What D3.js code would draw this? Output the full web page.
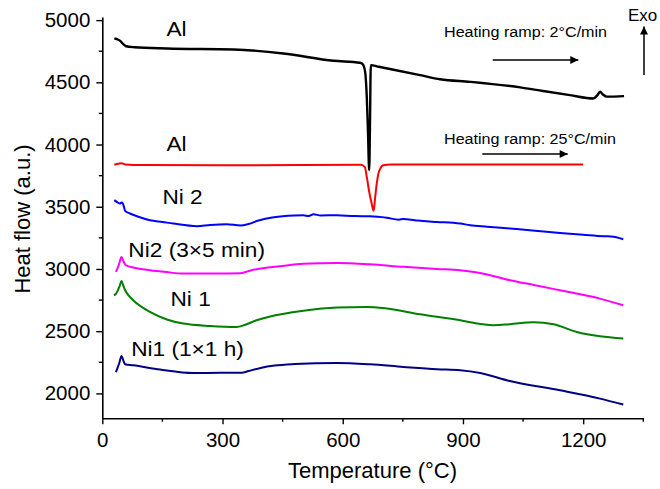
<!DOCTYPE html>
<html><head><meta charset="utf-8">
<script src="https://cdn.jsdelivr.net/npm/d3@7"></script>
<style>body{margin:0;background:#fff}svg{display:block}text{font-family:"Liberation Sans",Arial,sans-serif;fill:#000}</style>
</head><body>
<script>
const xTicks = [0, 300, 600, 900, 1200];
const yTicks = [2000, 2500, 3000, 3500, 4000, 4500, 5000];
const seriesNames = ["Al", "Al", "Ni 2", "Ni2 (3×5 min)", "Ni 1", "Ni1 (1×1 h)"];
const alSlow = [[30,4853],[38,4845],[44,4835],[53,4805],[59,4790],[80,4782],[161,4772],[327,4764],[452,4732],[577,4673],[643,4657],[650,4645],[656,4580],[660,4380],[663,4100],[666,3794],[668,4172],[670,4638],[690,4625],[793,4558],[843,4525],[918,4504],[1043,4459],[1100,4430],[1167,4397],[1225,4370],[1235,4395],[1242,4424],[1250,4400],[1259,4385],[1302,4389]];
const alFast = [[30,3838],[40,3845],[48,3850],[58,3840],[100,3835],[300,3833],[500,3835],[645,3838],[655,3820],[660,3740],[666,3620],[672,3529],[677,3467],[681,3579],[685,3690],[689,3767],[695,3815],[701,3834],[720,3840],[900,3840],[1200,3840]];
const ni2 = [[30,3553],[38,3535],[44,3526],[48,3535],[51,3528],[54,3500],[57,3467],[69,3446],[90,3420],[119,3392],[150,3378],[177,3365],[236,3344],[269,3354],[310,3360],[345,3350],[365,3362],[390,3390],[420,3412],[450,3424],[480,3430],[502,3432],[515,3425],[527,3440],[545,3430],[585,3432],[630,3425],[668,3424],[710,3412],[740,3396],[751,3402],[780,3392],[800,3385],[835,3378],[893,3365],[918,3352],[960,3340],[1017,3325],[1080,3308],[1142,3290],[1200,3275],[1251,3263],[1270,3262],[1300,3239]];
const ni2b = [[34,2977],[41,3030],[48,3097],[53,3060],[59,3030],[80,3010],[119,2990],[160,2975],[202,2963],[285,2963],[345,2966],[370,2988],[400,3006],[443,3022],[502,3042],[585,3049],[668,3038],[751,3017],[835,3000],[893,2990],[943,2968],[1017,2910],[1080,2870],[1142,2829],[1242,2762],[1300,2709]];
const ni1 = [[29,2789],[34,2800],[37,2816],[43,2860],[48,2904],[52,2870],[57,2829],[65,2790],[77,2749],[119,2655],[161,2594],[202,2561],[269,2542],[335,2534],[355,2550],[385,2588],[419,2618],[450,2638],[502,2664],[585,2690],[660,2695],[710,2682],[793,2636],[893,2588],[950,2555],[976,2548],[1017,2556],[1076,2572],[1126,2556],[1184,2494],[1242,2459],[1300,2441]];
const ni1b = [[34,2172],[42,2240],[48,2301],[53,2260],[57,2234],[77,2226],[144,2192],[227,2164],[294,2166],[348,2166],[365,2180],[395,2205],[430,2224],[480,2236],[585,2245],[668,2234],[751,2213],[835,2194],[893,2186],[943,2164],[1017,2100],[1142,2025],[1242,1958],[1300,1910]];
const seriesData = [alSlow, alFast, ni2, ni2b, ni1, ni1b];
const seriesColors = ["#000000", "#ff0000", "#0000ff", "#ff00ff", "#008000", "#000080"];
const labelPos = [[160,4870],[160,3950],[150,3520],[65,3100],[170,2700],[72,2300]];
const rampTexts = ["Heating ramp: 2°C/min", "Heating ramp: 25°C/min"];

const W = 660, H = 489;
const svg = d3.select("body").append("svg").attr("width", W).attr("height", H);
const x = d3.scaleLinear().domain([0, 1350]).range([102.3, 643.3]);
const y = d3.scaleLinear().domain([1800, 5025]).range([418.3, 17]);

// axes
const xAxis = d3.axisBottom(x).tickValues(xTicks).tickFormat(d3.format("d")).tickSize(6).tickPadding(8).tickSizeOuter(0);
const gx = svg.append("g").attr("transform", `translate(0,${y(1800)})`).call(xAxis);
const yAxis = d3.axisLeft(y).tickValues(yTicks).tickFormat(d3.format("d")).tickSize(6).tickPadding(6).tickSizeOuter(0);
const gy = svg.append("g").attr("transform", `translate(${x(0)},0)`).call(yAxis);
[gx, gy].forEach(g => {
  g.select(".domain").attr("stroke", "#000").attr("stroke-width", 1.6);
  g.selectAll(".tick line").attr("stroke", "#000").attr("stroke-width", 1.4);
  g.selectAll(".tick text").style("font-size", "20.5px").style("font-family", "'Liberation Sans', Arial, sans-serif");
});
// minor ticks
const xMinor = d3.range(150, 1351, 300);
svg.append("g").selectAll("line").data(xMinor).join("line")
  .attr("x1", d => x(d)).attr("x2", d => x(d))
  .attr("y1", y(1800)).attr("y2", y(1800) + 3.5).attr("stroke", "#000").attr("stroke-width", 1.4);
const yMinor = d3.range(2250, 5000, 500);
svg.append("g").selectAll("line").data(yMinor).join("line")
  .attr("x1", x(0) - 3.5).attr("x2", x(0))
  .attr("y1", d => y(d)).attr("y2", d => y(d)).attr("stroke", "#000").attr("stroke-width", 1.4);

// axis titles
svg.append("text").attr("x", 372.5).attr("y", 477.5).attr("text-anchor", "middle")
  .style("font-size", "22px").text("Temperature (°C)");
svg.append("text").attr("transform", "translate(30,219) rotate(-90)").attr("text-anchor", "middle")
  .style("font-size", "22px").text("Heat flow (a.u.)");

// curves
const line = d3.line().x(d => x(d[0])).y(d => y(d[1])).curve(d3.curveMonotoneX);
svg.append("g").selectAll("path").data(seriesData).join("path")
  .attr("d", d => line(d)).attr("fill", "none")
  .attr("stroke", (d, i) => seriesColors[i])
  .attr("stroke-width", (d, i) => i === 0 ? 2.4 : 2)
  .attr("stroke-linejoin", "round");

// labels (slightly wide lettering, as in the original)
svg.append("g").selectAll("text").data(seriesNames).join("text")
  .attr("transform", (d, i) => `translate(${x(labelPos[i][0])},${y(labelPos[i][1])}) scale(1.08,1)`)
  .style("font-size", "21px").text(d => d);

// heating ramp annotations
const defs = svg.append("defs");
defs.append("marker").attr("id", "ah").attr("viewBox", "0 0 10 10").attr("refX", 10).attr("refY", 5)
  .attr("markerWidth", 13).attr("markerHeight", 8).attr("markerUnits", "userSpaceOnUse").attr("orient", "auto")
  .append("path").attr("d", "M0,0 L10,5 L0,10 Z").attr("fill", "#000");
const rampX = [[444, 492.7, 578.3, 37.3, 60], [444, 482.3, 567.7, 144.3, 154]];
rampTexts.forEach((t, i) => {
  const r = rampX[i];
  svg.append("text").attr("transform", `translate(${r[0]},${r[3]}) scale(1.04,1)`).style("font-size", "15.5px").text(t);
  svg.append("line").attr("x1", r[1]).attr("x2", r[2]).attr("y1", r[4]).attr("y2", r[4])
    .attr("stroke", "#000").attr("stroke-width", 1.5).attr("marker-end", "url(#ah)");
});
// Exo
svg.append("text").attr("x", 628).attr("y", 20.7).style("font-size", "17px").text("Exo");
svg.append("line").attr("x1", 644).attr("x2", 644).attr("y1", 75).attr("y2", 26.5)
  .attr("stroke", "#000").attr("stroke-width", 1.5).attr("marker-end", "url(#ah)");
</script>
</body></html>
